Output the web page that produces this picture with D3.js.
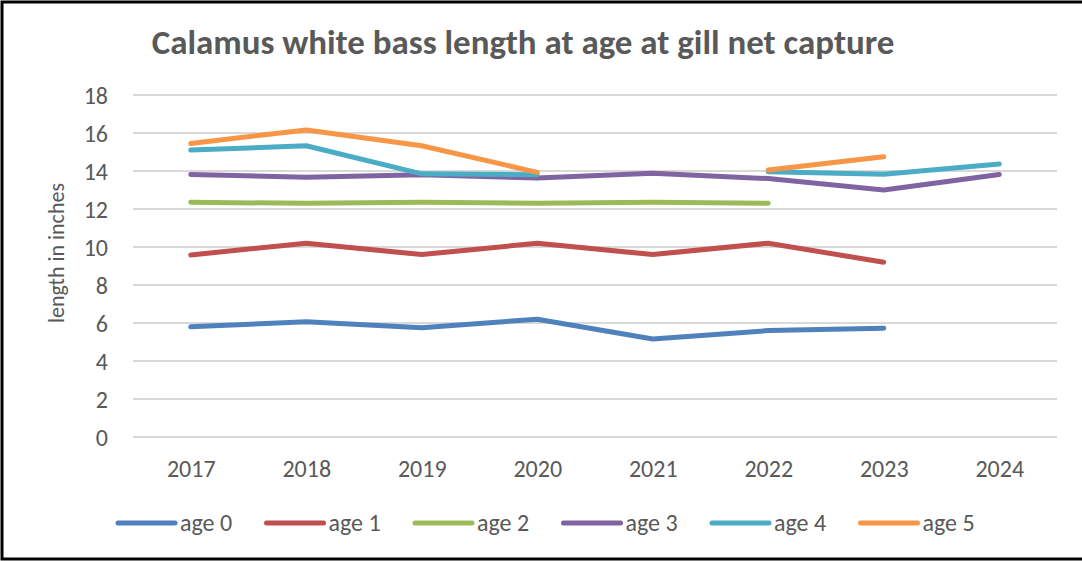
<!DOCTYPE html>
<html>
<head>
<meta charset="utf-8">
<script src="https://cdn.jsdelivr.net/npm/d3@7"></script>
<style>
  html, body { margin: 0; padding: 0; background: #fff; }
  svg { display: block; }
  text { font-family: Carlito, Lato, "Open Sans", sans-serif; fill: #595959; }
</style>
</head>
<body>
<svg id="chart" width="1082" height="561"></svg>
<script>
// Survey years on the category axis
const years = ["2017", "2018", "2019", "2020", "2021", "2022", "2023", "2024"];

// Mean length (inches) at age; null = no fish of that age captured
const age0 = [5.8, 6.07, 5.75, 6.2, 5.16, 5.6, 5.72, null];
const age1 = [9.58, 10.2, 9.6, 10.2, 9.6, 10.2, 9.2, null];
const age2 = [12.35, 12.3, 12.35, 12.3, 12.35, 12.3, null, null];
const age3 = [13.82, 13.67, 13.8, 13.63, 13.88, 13.6, 13.0, 13.82];
const age4 = [15.1, 15.33, 13.85, 13.8, null, 13.96, 13.83, 14.37];
const age5 = [15.45, 16.16, 15.33, 13.93, null, 14.05, 14.75, null];

const seriesNames = ["age 0", "age 1", "age 2", "age 3", "age 4", "age 5"];
const seriesValues = [age0, age1, age2, age3, age4, age5];
const seriesColors = ["#4F81BD", "#C0504D", "#9BBB59", "#8064A2", "#4BACC6", "#F79646"];

const yTicks = [0, 2, 4, 6, 8, 10, 12, 14, 16, 18];

const titleText = "Calamus white bass length at age at gill net capture";
const yAxisTitle = "length in inches";

const svg = d3.select("#chart");

// Outer frame
svg.append("rect")
  .attr("x", 2).attr("y", 2)
  .attr("width", 1100).attr("height", 557)
  .attr("fill", "#fff")
  .attr("stroke", "#000")
  .attr("stroke-width", 3);

const plot = { left: 133, right: 1057, top: 95, bottom: 437 };

const x = d3.scalePoint()
  .domain(years)
  .range([plot.left, plot.right])
  .padding(0.5);

const y = d3.scaleLinear()
  .domain([0, 18])
  .range([plot.bottom, plot.top]);

// Horizontal gridlines
svg.append("g")
  .selectAll("line")
  .data(yTicks)
  .join("line")
  .attr("x1", plot.left).attr("x2", plot.right)
  .attr("y1", d => y(d)).attr("y2", d => y(d))
  .attr("stroke", "#D9D9D9")
  .attr("stroke-width", 2);

// Y axis tick labels
const yAxis = svg.append("g")
  .attr("transform", `translate(${plot.left - 25},0)`)
  .call(d3.axisLeft(y).tickValues(yTicks).tickSize(0).tickPadding(0));
yAxis.select(".domain").remove();
yAxis.selectAll("text")
  .attr("font-size", 24)
  .attr("dy", "0.36em")
  .style("font-family", "Carlito, Lato, 'Open Sans', sans-serif")
  .attr("fill", "#595959");

// X axis tick labels
const xAxis = svg.append("g")
  .attr("transform", `translate(0,${plot.bottom})`)
  .call(d3.axisBottom(x).tickSize(0).tickPadding(0));
xAxis.select(".domain").remove();
xAxis.selectAll("text")
  .attr("font-size", 24)
  .attr("y", 40)
  .attr("dy", 0)
  .style("font-family", "Carlito, Lato, 'Open Sans', sans-serif")
  .attr("fill", "#595959");

// Series lines
const line = d3.line()
  .defined(d => d.v != null)
  .x(d => x(d.year))
  .y(d => y(d.v));

svg.append("g")
  .selectAll("path")
  .data(seriesValues.map((vals, i) => ({
    name: seriesNames[i],
    color: seriesColors[i],
    pts: vals.map((v, j) => ({ year: years[j], v }))
  })))
  .join("path")
  .attr("d", d => line(d.pts))
  .attr("fill", "none")
  .attr("stroke", d => d.color)
  .attr("stroke-width", 5)
  .attr("stroke-linecap", "round")
  .attr("stroke-linejoin", "round");

// Fit a text element to a target width by adjusting font size
function fitWidth(sel, target) {
  const node = sel.node();
  const fs = parseFloat(sel.attr("font-size"));
  const w = node.getComputedTextLength();
  if (w > 0) sel.attr("font-size", (fs * target / w).toFixed(2));
}

// Title
const title = svg.append("text")
  .attr("x", 523).attr("y", 54)
  .attr("text-anchor", "middle")
  .attr("font-size", 26)
  .attr("font-weight", "bold")
  .text(titleText);
fitWidth(title, 743);

// Y axis title
const yt = svg.append("text")
  .attr("transform", "translate(64,253) rotate(-90)")
  .attr("text-anchor", "middle")
  .attr("font-size", 22)
  .text(yAxisTitle);
fitWidth(yt, 140);

// Legend
const legend = svg.append("g");
const legendStart = 118, legendStep = 148.5, legendY = 523;
seriesNames.forEach((name, i) => {
  const lx = legendStart + i * legendStep;
  legend.append("line")
    .attr("x1", lx).attr("x2", lx + 57)
    .attr("y1", legendY).attr("y2", legendY)
    .attr("stroke", seriesColors[i])
    .attr("stroke-width", 5)
    .attr("stroke-linecap", "round");
  legend.append("text")
    .attr("x", lx + 62)
    .attr("y", legendY)
    .attr("dy", "0.35em")
    .attr("font-size", 24)
    .text(name);
});
</script>
</body>
</html>
